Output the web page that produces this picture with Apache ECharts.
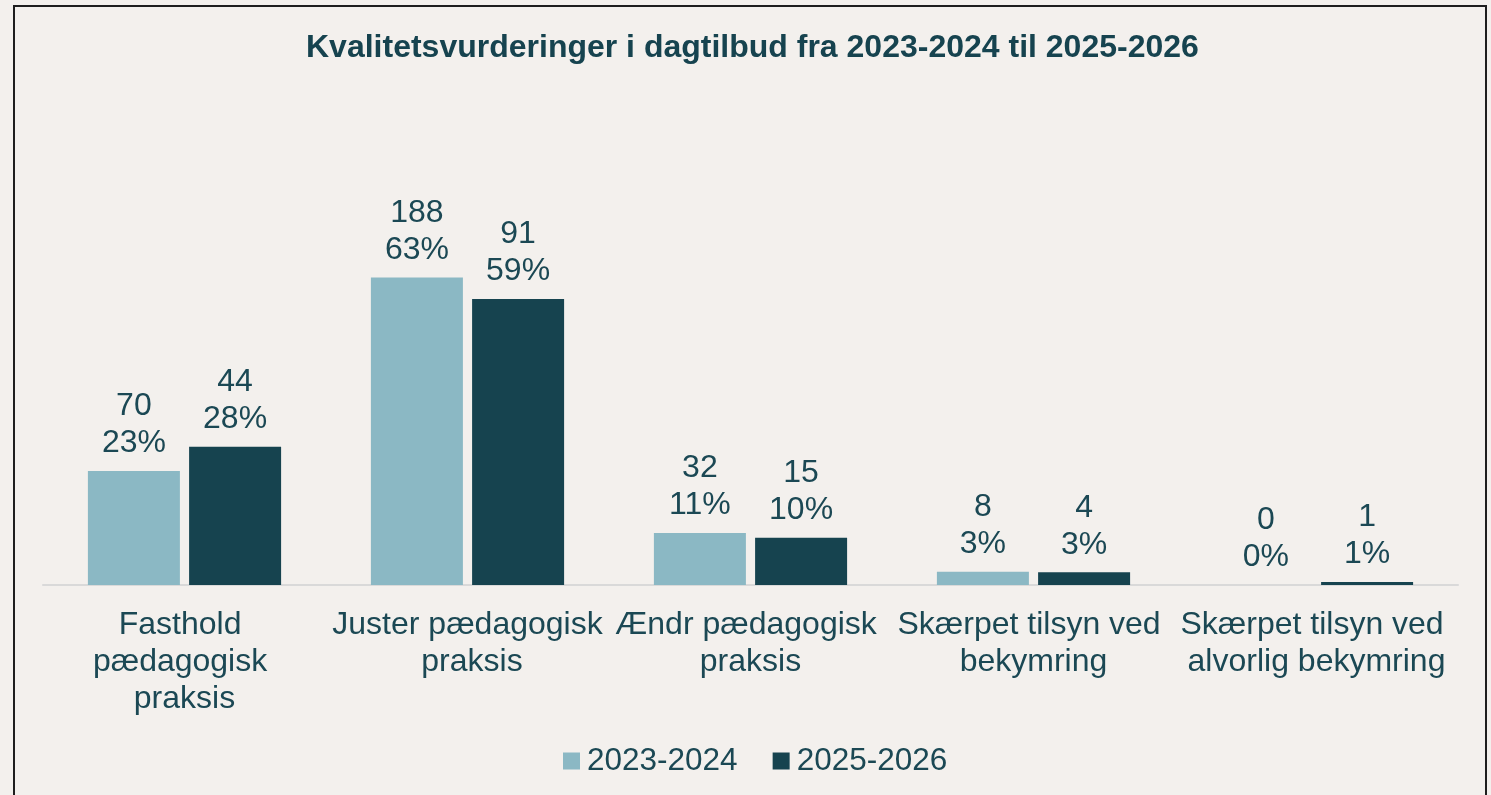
<!DOCTYPE html>
<html>
<head>
<meta charset="utf-8">
<script src="https://cdn.jsdelivr.net/npm/echarts@6/dist/echarts.min.js"></script>
<style>
  html, body { margin: 0; padding: 0; background: #f3f0ed; overflow: hidden; }
  #main { width: 1491px; height: 795px; }
</style>
</head>
<body>
<div id="main"></div>
<script>
// kategorier og værdier
var categories = ['Fasthold pædagogisk praksis', 'Juster pædagogisk praksis', 'Ændr pædagogisk praksis',
    'Skærpet tilsyn ved bekymring', 'Skærpet tilsyn ved alvorlig bekymring'];
var seriesNames = ['2023-2024', '2025-2026'];
var count2324 = [70, 188, 32, 8, 0];
var count2526 = [44, 91, 15, 4, 1];
// andel i procent (søjlehøjde)
var share2324 = [23.4, 63.1, 10.7, 2.7, 0];
var share2526 = [28.4, 58.7, 9.7, 2.6, 0.6];

var colors = ['#8bb8c4', '#16434f'];
var textColor = '#1b4854';
var myChart;

function makeSeries(name, shares, counts, color) {
    return {
        name: name,
        type: 'bar',
        barWidth: 92,
        barGap: '10%',
        itemStyle: { color: color },
        data: shares,
        label: {
            show: true,
            position: 'top',
            distance: 9,
            color: textColor,
            fontSize: 32,
            lineHeight: 37,
            fontFamily: 'Liberation Sans, Arial, sans-serif',
            formatter: function (p) {
                return counts[p.dataIndex] + '\n' + Math.round(p.value) + '%';
            }
        }
    };
}

window.onload = function () {
    myChart = echarts.init(document.getElementById('main'));
    var option = {
        backgroundColor: '#f3f0ed',
        animation: false,
        title: {
            text: 'Kvalitetsvurderinger i dagtilbud fra 2023-2024 til 2025-2026',
            left: 301,
            top: 27,
            textStyle: {
                color: '#16434f',
                fontSize: 32,
                fontWeight: 'bold',
                fontFamily: 'Liberation Sans, Arial, sans-serif'
            }
        },
        legend: {
            data: seriesNames,
            left: 558,
            top: 740,
            itemWidth: 17,
            itemHeight: 17,
            itemGap: 35,
            icon: 'rect',
            textStyle: {
                color: textColor,
                fontSize: 31.5,
                fontFamily: 'Liberation Sans, Arial, sans-serif',
                padding: [0, 0, 0, 2]
            }
        },
        grid: { left: 43, right: 33, top: 244, bottom: 210, containLabel: false },
        xAxis: {
            type: 'category',
            data: categories,
            axisLine: { lineStyle: { color: '#d9d9d9', width: 2 } },
            axisTick: { show: false },
            axisLabel: {
                interval: 0,
                margin: 22,
                color: textColor,
                fontSize: 32,
                lineHeight: 37,
                fontFamily: 'Liberation Sans, Arial, sans-serif',
                width: 277,
                overflow: 'break'
            }
        },
        yAxis: {
            type: 'value',
            min: 0,
            max: 70,
            show: false
        },
        graphic: [{
            type: 'rect',
            shape: { x: 14, y: 6, width: 1472, height: 900 },
            style: { fill: 'none', stroke: '#1e1e1e', lineWidth: 2 },
            silent: true
        }],
        series: [
            makeSeries(seriesNames[0], share2324, count2324, colors[0]),
            makeSeries(seriesNames[1], share2526, count2526, colors[1])
        ]
    };
    myChart.setOption(option);
};
</script>
</body>
</html>
